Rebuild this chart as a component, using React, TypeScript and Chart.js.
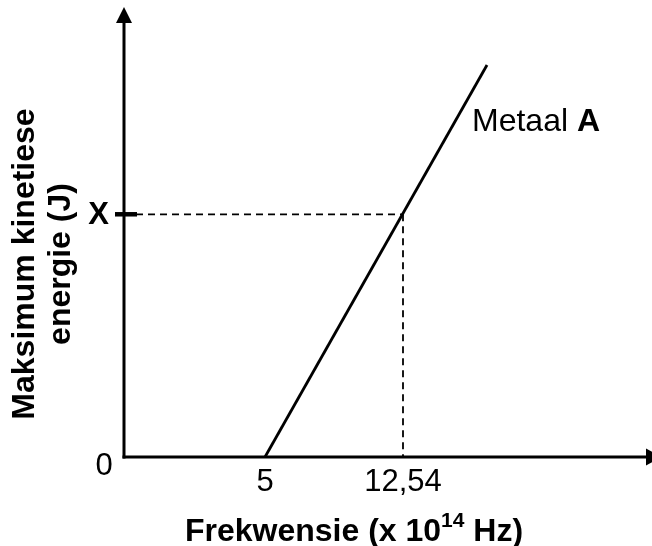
import React, { useEffect, useRef } from "react";
import { Chart, registerables } from "chart.js";

Chart.register(...registerables);

// ---- data ----
const lineFreq = [5, 17.13];          // Metaal A line: frequency (x 10^14 Hz)
const lineEnergy = [0, 1.615];        // maximum kinetic energy (units of X)
const markFreq = 12.54;               // marked frequency
const markEnergy = 1;                 // energy X
const xTickValues = [5, 12.54];
const xTickLabels = ["5", "12,54"];
const yTickValues = [0, 1];
const yTickLabels = ["0", "X"];
const seriesLabel = "Metaal ";
const seriesLabelBold = "A";
const xTitleMain = "Frekwensie (x 10";
const xTitleSup = "14";
const xTitleEnd = " Hz)";
const yTitleLines = ["Maksimum kinetiese", "energie (J)"];

const FONT = "'Liberation Sans', Arial, sans-serif";

const drawPlugin = {
  id: "schematicAxes",
  afterDatasetsDraw(chart: any) {
    const ctx = chart.ctx as CanvasRenderingContext2D;
    const xs = chart.scales.x;
    const ys = chart.scales.y;
    const { left, right, top, bottom } = chart.chartArea;
    ctx.save();
    ctx.fillStyle = "#000";
    ctx.strokeStyle = "#000";

    // y axis
    ctx.lineWidth = 3;
    ctx.beginPath();
    ctx.moveTo(left, bottom + 1.5);
    ctx.lineTo(left, top + 14);
    ctx.stroke();
    ctx.beginPath();
    ctx.moveTo(left, top);
    ctx.lineTo(left - 8, top + 16);
    ctx.lineTo(left + 8, top + 16);
    ctx.closePath();
    ctx.fill();

    // x axis
    ctx.beginPath();
    ctx.moveTo(left - 1.5, bottom);
    ctx.lineTo(right - 6, bottom);
    ctx.stroke();
    ctx.beginPath();
    ctx.moveTo(right + 10, bottom);
    ctx.lineTo(right - 6, bottom - 8.5);
    ctx.lineTo(right - 6, bottom + 8.5);
    ctx.closePath();
    ctx.fill();

    // tick mark at X
    const yX = ys.getPixelForValue(markEnergy);
    ctx.lineWidth = 4.5;
    ctx.beginPath();
    ctx.moveTo(left - 9, yX);
    ctx.lineTo(left + 13, yX);
    ctx.stroke();

    // x tick labels
    ctx.font = `31px ${FONT}`;
    ctx.textAlign = "center";
    ctx.textBaseline = "alphabetic";
    xTickValues.forEach((v, i) => {
      ctx.fillText(xTickLabels[i], xs.getPixelForValue(v), bottom + 34);
    });

    // y tick labels
    ctx.textAlign = "center";
    ctx.font = `31px ${FONT}`;
    ctx.fillText(yTickLabels[0], left - 20, ys.getPixelForValue(yTickValues[0]) + 18);
    ctx.font = `bold 31px ${FONT}`;
    ctx.textAlign = "right";
    ctx.textBaseline = "middle";
    ctx.fillText(yTickLabels[1], left - 15, ys.getPixelForValue(yTickValues[1]) + 1);

    // series label
    ctx.textAlign = "left";
    ctx.textBaseline = "alphabetic";
    ctx.font = `32px ${FONT}`;
    const lx = 472;
    const ly = 131;
    ctx.fillText(seriesLabel, lx, ly);
    const w1 = ctx.measureText(seriesLabel).width;
    ctx.font = `bold 32px ${FONT}`;
    ctx.fillText(seriesLabelBold, lx + w1, ly);

    // x title with superscript
    ctx.font = `bold 32px ${FONT}`;
    const wMain = ctx.measureText(xTitleMain).width;
    const wEnd = ctx.measureText(xTitleEnd).width;
    ctx.font = `bold 21px ${FONT}`;
    const wSup = ctx.measureText(xTitleSup).width;
    const total = wMain + wSup + wEnd;
    let tx = 354 - total / 2;
    const tb = 541;
    ctx.font = `bold 32px ${FONT}`;
    ctx.fillText(xTitleMain, tx, tb);
    tx += wMain;
    ctx.font = `bold 21px ${FONT}`;
    ctx.fillText(xTitleSup, tx, tb - 14);
    tx += wSup;
    ctx.font = `bold 32px ${FONT}`;
    ctx.fillText(xTitleEnd, tx, tb);

    // y title (rotated)
    ctx.save();
    ctx.translate(0, 264);
    ctx.rotate(-Math.PI / 2);
    ctx.textAlign = "center";
    ctx.textBaseline = "alphabetic";
    ctx.font = `bold 32px ${FONT}`;
    ctx.fillText(yTitleLines[0], 0, 34);
    ctx.fillText(yTitleLines[1], 0, 70);
    ctx.restore();

    ctx.restore();
  },
};

export default function App() {
  const ref = useRef<HTMLCanvasElement | null>(null);
  useEffect(() => {
    if (!ref.current) return;
    const chart = new Chart(ref.current, {
      type: "scatter",
      data: {
        datasets: [
          {
            label: "Metaal A",
            data: lineFreq.map((x, i) => ({ x, y: lineEnergy[i] })),
            showLine: true,
            borderColor: "#000",
            borderWidth: 2.8,
            pointRadius: 0,
            clip: false,
          } as any,
          {
            label: "h",
            data: [
              { x: -2.704, y: markEnergy },
              { x: markFreq, y: markEnergy },
            ],
            showLine: true,
            borderColor: "#000",
            borderWidth: 1.8,
            borderDash: [7, 5],
            pointRadius: 0,
          } as any,
          {
            label: "v",
            data: [
              { x: markFreq, y: markEnergy },
              { x: markFreq, y: 0 },
            ],
            showLine: true,
            borderColor: "#000",
            borderWidth: 1.8,
            borderDash: [7, 5],
            pointRadius: 0,
          } as any,
        ],
      },
      options: {
        animation: false,
        responsive: false,
        devicePixelRatio: 1,
        layout: { padding: { left: 124, right: 0, top: 7, bottom: 89 } },
        plugins: { legend: { display: false }, tooltip: { enabled: false } },
        scales: {
          x: { type: "linear", min: -2.704, max: 26.145, display: false },
          y: { type: "linear", min: 0, max: 1.854, display: false },
        },
      },
      plugins: [drawPlugin],
    });
    return () => chart.destroy();
  }, []);
  return (
    <div style={{ position: "absolute", left: 0, top: 0, width: 652, height: 546, background: "#fff" }}>
      <canvas ref={ref} width={652} height={546} style={{ width: 652, height: 546 }} />
    </div>
  );
}
